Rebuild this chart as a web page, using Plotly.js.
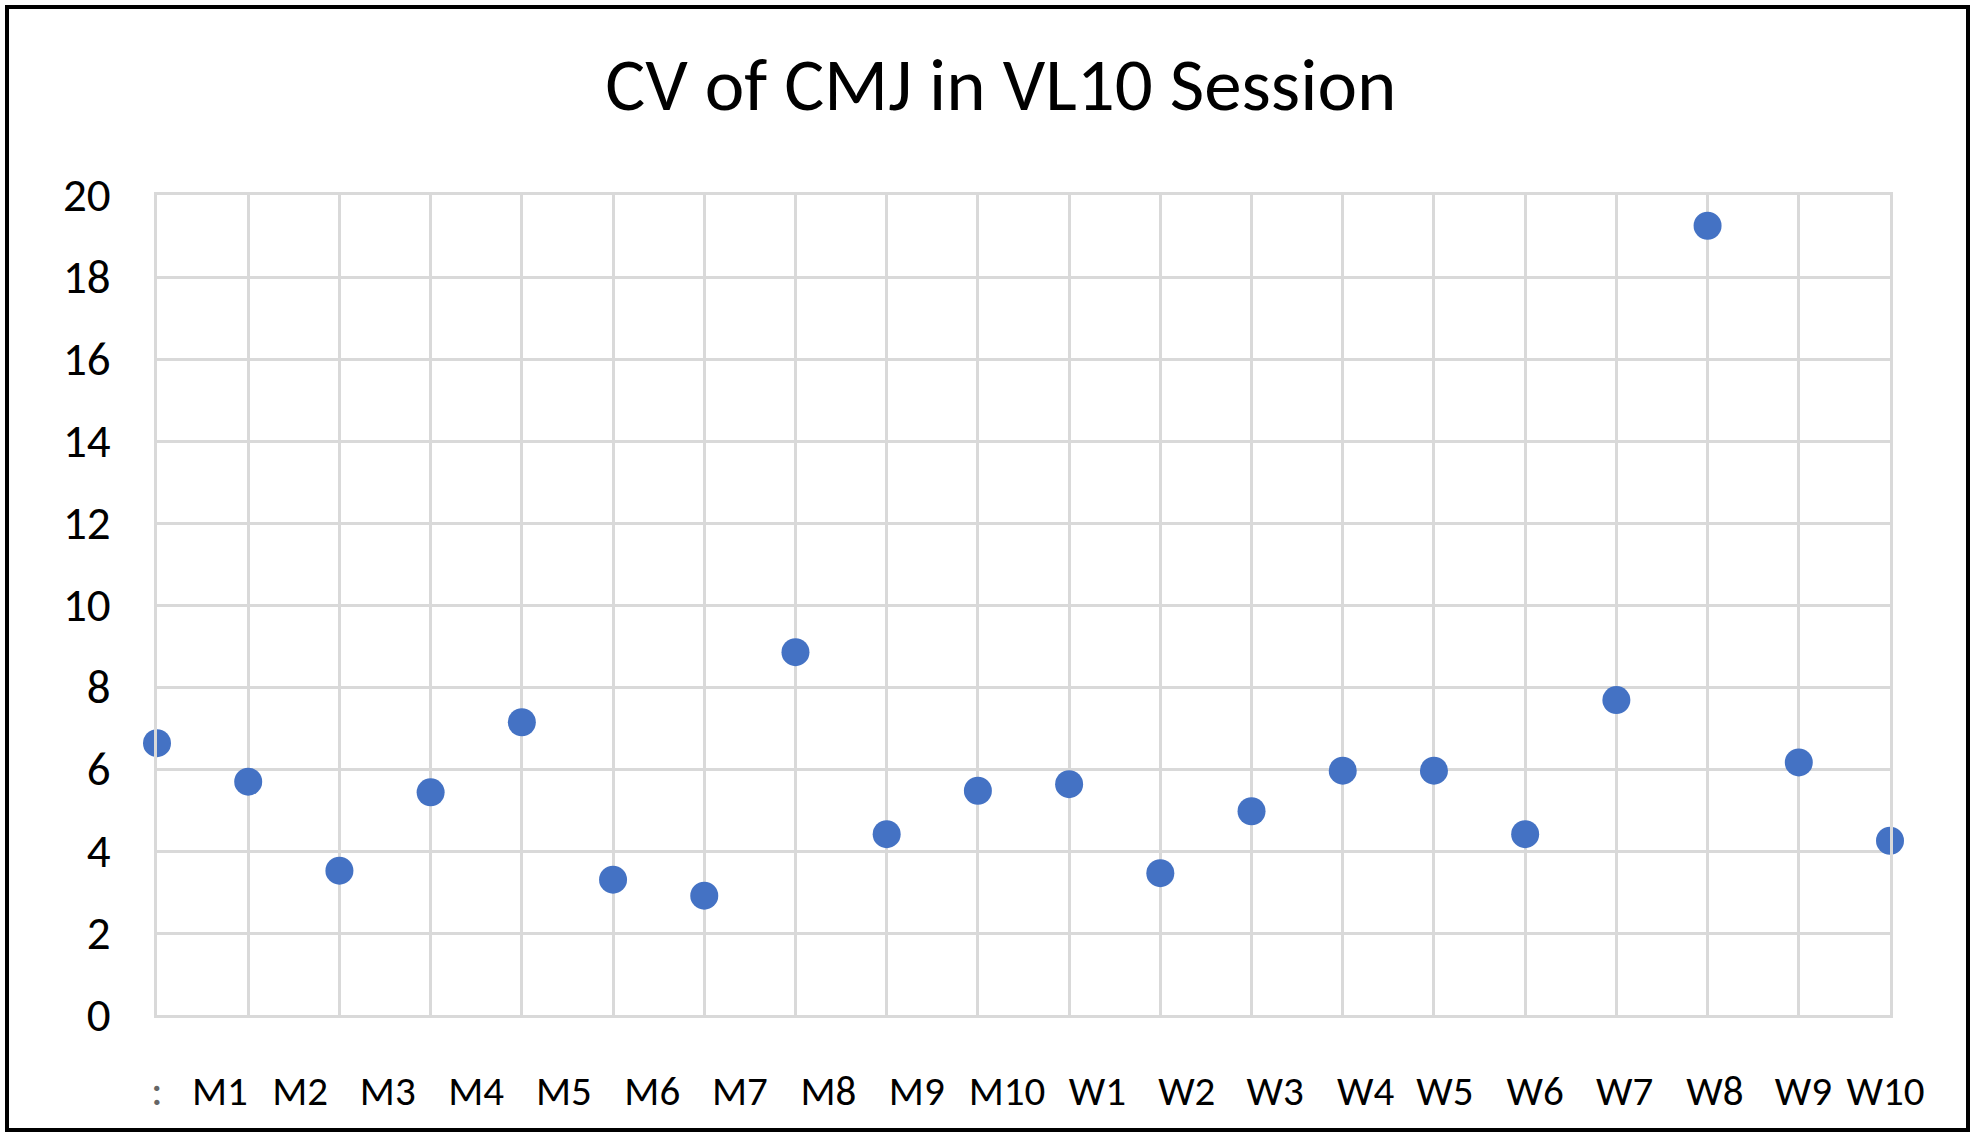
<!DOCTYPE html>
<html>
<head>
<meta charset="utf-8">
<script src="https://cdn.plot.ly/plotly-3.0.1.min.js"></script>
<style>
  html, body { margin: 0; padding: 0; background: #ffffff; }
  #chart { width: 1974px; height: 1138px; }
</style>
</head>
<body>
<div id="chart"></div>
<script>
// Subjects (one point each, in order)
const subjects = ["M1","M2","M3","M4","M5","M6","M7","M8","M9","M10",
                  "W1","W2","W3","W4","W5","W6","W7","W8","W9","W10"];
// CV of CMJ values (%)
const cvValues = [6.63, 5.69, 3.52, 5.43, 7.14, 3.30, 2.91, 8.85, 4.41, 5.47,
                  5.63, 3.46, 4.97, 5.96, 5.96, 4.41, 7.68, 19.25, 6.16, 4.25];
// Category-axis labels as printed under the chart (first is a stray mark)
const axisLabels = [":", "M1","M2","M3","M4","M5","M6","M7","M8","M9","M10",
                    "W1","W2","W3","W4","W5","W6","W7","W8","W9","W10"];
// Where those printed labels sit along the category axis
const labelPos = [0, 0.69, 1.57, 2.53, 3.50, 4.46, 5.43, 6.39, 7.36, 8.33, 9.32,
                  10.31, 11.29, 12.26, 13.25, 14.12, 15.11, 16.09, 17.08, 18.05, 18.95];
const yTicks = [0, 2, 4, 6, 8, 10, 12, 14, 16, 18, 20];

const FONT = "Carlito, Lato, 'Open Sans', sans-serif";
const GRID = "#D9D9D9";

const xIndex = subjects.map((_, i) => i);

const trace = {
  type: "scatter",
  mode: "markers",
  x: xIndex,
  y: cvValues,
  text: subjects,
  hovertemplate: "%{text}: %{y}<extra></extra>",
  marker: { color: "#4472C4", size: 28 },
  cliponaxis: false,
  showlegend: false
};

const tickText = axisLabels.map((t, i) =>
  i === 0 ? "<span style='font-size:44px;color:#666666'>" + t + "</span>" : t);

const layout = {
  width: 1974,
  height: 1138,
  margin: { l: 157, r: 84, t: 195, b: 123 },
  paper_bgcolor: "#ffffff",
  plot_bgcolor: "#ffffff",
  font: { family: FONT, color: "#000000" },
  title: {
    text: "CV of CMJ in VL10 Session",
    font: { family: FONT, size: 75, color: "#000000" },
    x: 0.507, xanchor: "center",
    y: 0.926, yanchor: "middle"
  },
  xaxis: {
    range: [0, xIndex.length - 1],
    tickmode: "array",
    tickvals: labelPos,
    ticktext: tickText,
    showgrid: false,
    zeroline: false,
    showline: true, linecolor: GRID, linewidth: 3, mirror: true,
    ticks: "outside", ticklen: 38, tickcolor: "rgba(0,0,0,0)",
    tickfont: { family: FONT, size: 41, color: "#000000" },
    minor: {
      tickmode: "linear", tick0: 0, dtick: 1,
      showgrid: true, gridcolor: GRID, gridwidth: 3,
      ticks: ""
    }
  },
  yaxis: {
    range: [0, 20],
    tickmode: "array",
    tickvals: yTicks,
    ticktext: yTicks.map(String),
    showgrid: true, gridcolor: GRID, gridwidth: 3,
    zeroline: false,
    showline: true, linecolor: GRID, linewidth: 3, mirror: true,
    ticks: "outside", ticklen: 34, tickcolor: "rgba(0,0,0,0)",
    tickfont: { family: FONT, size: 47, color: "#000000" }
  },
  shapes: [{
    type: "rect", xref: "paper", yref: "paper",
    x0: (7 - 157) / 1733, x1: (1968 - 157) / 1733,
    y0: (1015 - 1130) / 820, y1: (1015 - 7) / 820,
    line: { color: "#000000", width: 4 },
    fillcolor: "rgba(0,0,0,0)",
    layer: "above"
  }]
};

Plotly.newPlot("chart", [trace], layout, { staticPlot: true, displayModeBar: false });
</script>
</body>
</html>
